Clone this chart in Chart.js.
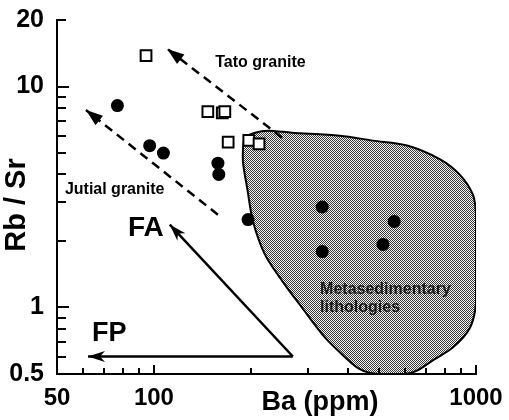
<!DOCTYPE html>
<html>
<head>
<meta charset="utf-8">
<script src="https://cdn.jsdelivr.net/npm/chart.js@4.4.1/dist/chart.umd.min.js"></script>
<style>
  html, body { margin: 0; padding: 0; background: #fff; }
  canvas { display: block; }
</style>
</head>
<body>
<canvas id="rbsrChart" width="509" height="420"></canvas>
<script>
// axis ticks
const xTickValues = [50, 100, 1000];
const xTickLabels = ['50', '100', '1000'];
const yTickValues = [0.5, 1, 10, 20];
const yTickLabels = ['0.5', '1', '10', '20'];
const xMinorTicks = [60, 70, 80, 90, 200, 300, 400, 500, 600, 700, 800, 900];
const yMinorTicks = [0.6, 0.7, 0.8, 0.9, 2, 3, 4, 5, 6, 7, 8, 9];

// samples
const jutialBa = [77, 97, 107, 158, 159, 196];
const jutialRbSr = [8.2, 5.4, 5.0, 4.5, 4.0, 2.5];
const metasedBa = [333, 557, 333, 514];
const metasedRbSr = [2.85, 2.45, 1.79, 1.93];
const tatoBa = [94.5, 147, 163, 166, 170, 197, 212];
const tatoRbSr = [13.8, 7.7, 7.6, 7.7, 5.6, 5.7, 5.5];

// trend arrows (last point is the tip)
const tatoTrendBa = [250, 110];
const tatoTrendRbSr = [5.87, 14.8];
const jutialTrendBa = [158, 61.5];
const jutialTrendRbSr = [2.63, 7.83];
const faBa = [270, 112];
const faRbSr = [0.6, 2.37];
const fpBa = [270, 62.4];
const fpRbSr = [0.6, 0.6];

// metasedimentary field outline
const fieldBa = [189, 192, 206, 226, 268, 378, 479, 611, 774, 893, 979, 1000, 1000, 1000, 1000,
  958, 849, 736, 661, 602, 522, 469, 430, 392, 340, 288, 250, 221, 203, 195, 189, 189];
const fieldRbSr = [5.3, 5.87, 6.18, 6.31, 6.18, 5.99, 5.69, 5.41, 4.68, 3.97, 3.23, 2.65, 2.16, 1.46, 1.04,
  0.81, 0.66, 0.578, 0.521, 0.5, 0.5, 0.506, 0.532, 0.596, 0.73, 1.0, 1.32, 1.74, 2.45, 3.43, 4.54, 5.3];

const FONT = '"Liberation Sans", Arial, Helvetica, sans-serif';

function xy(xs, ys) {
  return xs.map((x, i) => ({ x: x, y: ys[i] }));
}

function makeStipple(ctx) {
  const c = document.createElement('canvas');
  c.width = 2;
  c.height = 2;
  const g = c.getContext('2d');
  g.fillStyle = '#f4f4f4';
  g.fillRect(0, 0, 2, 2);
  g.fillStyle = '#3a3a3a';
  g.fillRect(0, 0, 1, 1);
  g.fillRect(1, 1, 1, 1);
  return ctx.createPattern(c, 'repeat');
}

// labels placed in data units
const annotations = [
  { text: 'Tato granite', x: 155, y: 12.8, size: 16, color: '#000' },
  { text: 'Jutial granite', x: 52.9, y: 3.4, size: 16, color: '#000' },
  { text: 'FA', x: 83, y: 2.28, size: 28, color: '#000' },
  { text: 'FP', x: 64.2, y: 0.764, size: 27, color: '#000' },
  { text: 'Metasedimentary', x: 328, y: 1.21, size: 16, color: '#1a1a1a' },
  { text: 'lithologies', x: 328, y: 1.0, size: 16, color: '#1a1a1a' },
];

const decorPlugin = {
  id: 'decor',
  afterDraw(chart) {
    const ctx = chart.ctx;
    const xs = chart.scales.x;
    const ys = chart.scales.y;
    const left = chart.chartArea.left;
    const bottom = chart.chartArea.bottom;

    // arrow heads
    chart.data.datasets.forEach((ds, i) => {
      if (!ds.arrowHead) return;
      const pts = chart.getDatasetMeta(i).data;
      const tip = pts[pts.length - 1];
      const prev = pts[pts.length - 2];
      const ang = Math.atan2(tip.y - prev.y, tip.x - prev.x);
      ctx.save();
      ctx.translate(tip.x, tip.y);
      ctx.rotate(ang);
      ctx.fillStyle = '#000';
      ctx.beginPath();
      ctx.moveTo(0, 0);
      if (ds.arrowHead === 'barb') {
        ctx.lineTo(-17, 5.5);
        ctx.lineTo(-12, 0);
        ctx.lineTo(-17, -5.5);
      } else {
        ctx.lineTo(-17, 6);
        ctx.lineTo(-17, -6);
      }
      ctx.closePath();
      ctx.fill();
      ctx.restore();
    });

    // inward tick marks
    ctx.save();
    ctx.fillStyle = '#000';
    yTickValues.slice(1).forEach((v) => {
      const py = Math.round(ys.getPixelForValue(v));
      ctx.fillRect(left, py - 1, v === 20 ? 9 : 12, 2);
    });
    yMinorTicks.forEach((v) => {
      const py = Math.round(ys.getPixelForValue(v));
      ctx.fillRect(left, py - 1, 9, 2);
    });
    xTickValues.slice(1).forEach((v) => {
      const px = Math.round(xs.getPixelForValue(v));
      ctx.fillRect(px - 1, bottom - 9, 2, 9);
    });
    xMinorTicks.forEach((v) => {
      const px = Math.round(xs.getPixelForValue(v));
      ctx.fillRect(px - 1, bottom - 6, 2, 6);
    });
    ctx.restore();

    // text labels
    ctx.save();
    ctx.textBaseline = 'middle';
    ctx.textAlign = 'left';
    annotations.forEach((a) => {
      ctx.font = 'bold ' + a.size + 'px ' + FONT;
      ctx.fillStyle = a.color;
      ctx.fillText(a.text, xs.getPixelForValue(a.x), ys.getPixelForValue(a.y));
    });

    // axis titles
    ctx.fillStyle = '#000';
    ctx.font = 'bold 27px ' + FONT;
    ctx.textAlign = 'center';
    ctx.fillText('Ba (ppm)', 320, 403);
    ctx.translate(17, 205);
    ctx.rotate(-Math.PI / 2);
    ctx.font = 'bold 29px ' + FONT;
    ctx.fillText('Rb / Sr', 0, 0);
    ctx.restore();
  },
};

const ctx = document.getElementById('rbsrChart').getContext('2d');
const stipple = makeStipple(ctx);

const pointDefaults = { showLine: false, fill: false, pointHoverRadius: 0 };
const lineDefaults = { pointRadius: 0, pointHoverRadius: 0, fill: false, borderColor: '#000', borderWidth: 2.5 };

new Chart(ctx, {
  type: 'line',
  data: {
    datasets: [
      Object.assign({
        label: 'Tato granite',
        data: xy(tatoBa, tatoRbSr),
        pointStyle: 'rect',
        pointRadius: 7.6,
        pointBackgroundColor: '#fff',
        pointBorderColor: '#000',
        pointBorderWidth: 2,
      }, pointDefaults),
      Object.assign({
        label: 'Jutial granite',
        data: xy(jutialBa, jutialRbSr),
        pointStyle: 'circle',
        pointRadius: 6.5,
        pointBackgroundColor: '#000',
        pointBorderColor: '#000',
        pointBorderWidth: 0,
      }, pointDefaults),
      Object.assign({
        label: 'Metasedimentary',
        data: xy(metasedBa, metasedRbSr),
        pointStyle: 'circle',
        pointRadius: 6.5,
        pointBackgroundColor: '#000',
        pointBorderColor: '#000',
        pointBorderWidth: 0,
      }, pointDefaults),
      Object.assign({ label: 'Tato trend', data: xy(tatoTrendBa, tatoTrendRbSr), borderDash: [9, 6], arrowHead: 'solid' }, lineDefaults),
      Object.assign({ label: 'Jutial trend', data: xy(jutialTrendBa, jutialTrendRbSr), borderDash: [9, 6], arrowHead: 'solid' }, lineDefaults),
      Object.assign({ label: 'FA', data: xy(faBa, faRbSr), arrowHead: 'barb' }, lineDefaults),
      Object.assign({ label: 'FP', data: xy(fpBa, fpRbSr), arrowHead: 'barb' }, lineDefaults),
      {
        label: 'Metasedimentary lithologies',
        data: xy(fieldBa, fieldRbSr),
        fill: 'shape',
        backgroundColor: stipple,
        borderColor: '#000',
        borderWidth: 2,
        tension: 0.3,
        pointRadius: 0,
        pointHoverRadius: 0,
      },
    ],
  },
  options: {
    responsive: false,
    animation: false,
    devicePixelRatio: 1,
    layout: { padding: { left: 0, top: 16, right: 33, bottom: 0 } },
    plugins: {
      legend: { display: false },
      tooltip: { enabled: false },
    },
    scales: {
      x: {
        type: 'logarithmic',
        position: 'bottom',
        min: 50,
        max: 1000,
        afterBuildTicks: (scale) => {
          scale.ticks = xTickValues.map((v) => ({ value: v }));
        },
        afterFit: (scale) => {
          scale.height = 46;
        },
        ticks: {
          autoSkip: false,
          maxRotation: 0,
          padding: 2,
          color: '#000',
          font: { family: FONT, size: 24, weight: 'bold' },
          callback: (value, index) => xTickLabels[index],
        },
        grid: { display: false },
        border: { display: true, color: '#000', width: 2 },
      },
      y: {
        type: 'logarithmic',
        min: 0.5,
        max: 20,
        afterBuildTicks: (scale) => {
          scale.ticks = yTickValues.map((v) => ({ value: v }));
        },
        afterFit: (scale) => {
          scale.width = 57;
        },
        ticks: {
          autoSkip: false,
          padding: 5,
          color: '#000',
          font: { family: FONT, size: 25, weight: 'bold' },
          callback: (value, index) => yTickLabels[index],
        },
        grid: { display: false },
        border: { display: true, color: '#000', width: 2 },
      },
    },
  },
  plugins: [decorPlugin],
});
</script>
</body>
</html>
